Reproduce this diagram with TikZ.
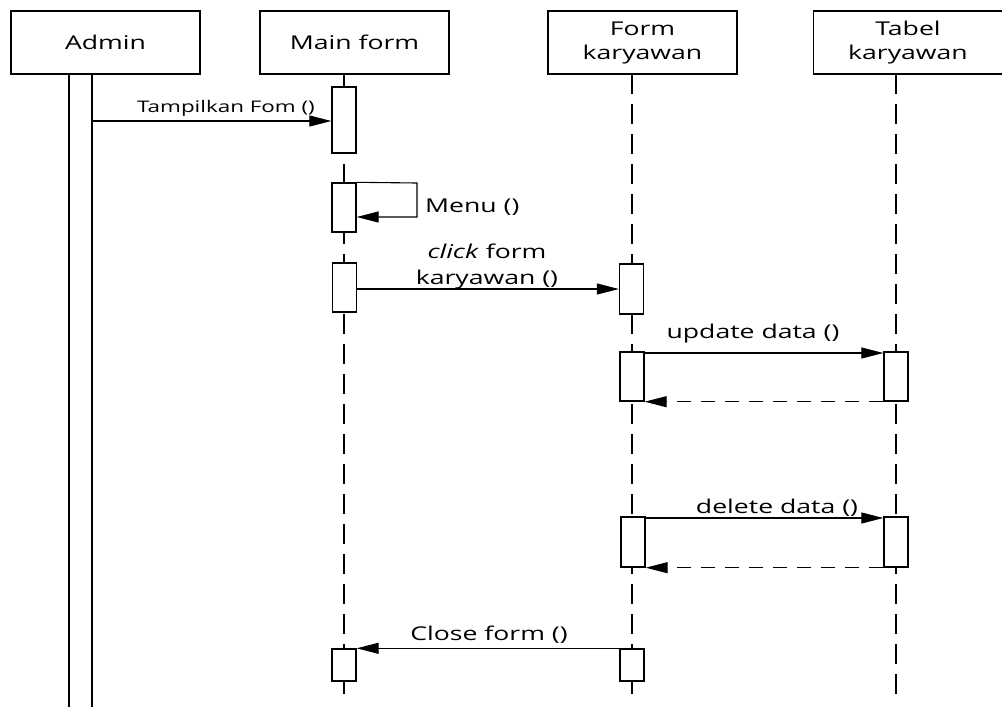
\documentclass[tikz,border=0pt]{standalone}
\usepackage{fontspec}
\setmainfont{Open Sans}[FakeStretch=1.4]
\usetikzlibrary{arrows.meta}
\begin{document}
\begin{tikzpicture}[x=1pt,y=-1pt,
  head/.style={draw,line width=1.4pt,minimum width=189pt,minimum height=63pt,inner sep=0pt,align=center,font=\fontsize{19}{24}\selectfont},
  act/.style={draw,fill=white,line width=1.4pt,minimum width=24pt,inner sep=0pt},
  life/.style={line width=1.4pt,dash pattern=on 20pt off 10pt},
  msg/.style={line width=1.1pt,-{Triangle[length=22pt,width=11pt]}},
  ret/.style={msg,dash pattern=on 14pt off 10pt},
  lbl/.style={anchor=base,inner sep=0pt,font=\fontsize{19}{26}\selectfont},
  slbl/.style={anchor=base,inner sep=0pt,font=\fontsize{16}{20}\selectfont}]
\useasboundingbox (0,0) rectangle (1002,707);
% heads
\node[head] (admin) at (105.5,42.5) {Admin};
\node[head] (main) at (354.5,42.5) {Main form};
\node[head] (form) at (642.5,42.5) {Form\\karyawan};
\node[head] (tabel) at (908,42.5) {Tabel\\karyawan};
% lifelines
\coordinate (mainend) at (344,699);
\coordinate (formend) at (632,699);
\coordinate (tabelend) at (896,699);
\draw[life] (344,74) -- (mainend);
\draw[life] (632,74) -- (formend);
\draw[life] (896,74) -- (tabelend);
% admin activation
\node[act,minimum width=23pt,minimum height=650pt,anchor=north] (aact) at (80.5,74) {};
% activation bars
\node[act,minimum height=66pt] (m1) at (344,120) {};
\node[act,minimum height=49pt] (m2) at (344,207.5) {};
\node[act,minimum height=49pt] (m3) at (344.5,287.5) {};
\node[act,minimum height=50pt] (f1) at (631.5,289) {};
\node[act,minimum height=49pt] (f2) at (632,376.5) {};
\node[act,minimum height=49pt] (t2) at (896,376.5) {};
\node[act,minimum height=50pt] (f3) at (633,542) {};
\node[act,minimum height=50pt] (t3) at (896,542) {};
\node[act,minimum height=32pt] (m4) at (344,665) {};
\node[act,minimum height=32pt] (f4) at (632,665) {};
% messages
\coordinate (a1) at (92,121);
\draw[msg] (a1) -- (m1.west |- a1);
\node[slbl] (l1) at (226,112) {Tampilkan Fom ()};
\coordinate (s1) at (417,183);
\coordinate (s2) at (417,217);
\draw[msg] (m2.north east) -- (s1) -- (s2) -- (m2.east |- s2);
\node[lbl,anchor=base west] (l2) at (425,212) {Menu ()};
\coordinate (c1) at (357,289);
\draw[msg] (m3.east |- c1) -- (f1.west |- c1);
\node[lbl,align=center] (l3) at (487,284) {\textit{click} form\\karyawan ()};
\coordinate (u1) at (644,353);
\draw[msg] (f2.east |- u1) -- (t2.west |- u1);
\draw[ret] (t2.south west) -- (f2.south east);
\node[lbl] (l4) at (753,338) {update data ()};
\coordinate (d1) at (645,518);
\draw[msg] (f3.east |- d1) -- (t3.west |- d1);
\draw[ret] (t3.south west) -- (f3.south east);
\node[lbl] (l5) at (777,513) {delete data ()};
\draw[msg] (f4.north west) -- (m4.north east);
\node[lbl] (l6) at (489,640) {Close form ()};
\end{tikzpicture}
\end{document}
